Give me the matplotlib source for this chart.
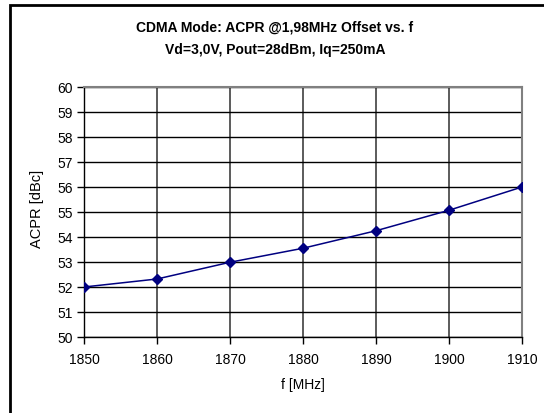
import matplotlib
matplotlib.use("Agg")
import matplotlib.pyplot as plt
from matplotlib.patches import Rectangle

plt.rcParams['font.family'] = ['Liberation Sans', 'DejaVu Sans']

freq = [1850, 1860, 1870, 1880, 1890, 1900, 1910]
acpr = [52.0, 52.32, 52.99, 53.55, 54.25, 55.07, 56.0]
x_ticks = [1850, 1860, 1870, 1880, 1890, 1900, 1910]
y_ticks = list(range(50, 61))

W, H = 544, 414
fig = plt.figure(figsize=(W / 100, H / 100), dpi=100)
fig.patch.set_facecolor('white')

left, right, top, bottom = 84, 522, 88, 338
ax = fig.add_axes([left / W, 1 - bottom / H, (right - left) / W, (bottom - top) / H])

ax.plot(freq, acpr, color='#000080', lw=1.1, marker='D', ms=5.5,
        markerfacecolor='#000080', markeredgecolor='#000080', zorder=3)

ax.set_xlim(1850, 1910)
ax.set_ylim(50, 60)
ax.set_xticks(x_ticks)
ax.set_yticks(y_ticks)
ax.tick_params(axis='both', direction='out', length=5, width=1, color='black',
               labelsize=10, pad=3)
ax.tick_params(axis='x', pad=6)
ax.grid(True, which='major', color='black', lw=1)
ax.xaxis.grid(True, color='#404040', lw=1.2)
for s in ax.spines.values():
    s.set_color('#808080')
    s.set_linewidth(1.5)
ax.spines['left'].set_color('black')
ax.spines['bottom'].set_color('black')
ax.spines['left'].set_linewidth(1)
ax.spines['bottom'].set_linewidth(1)

ax.set_xlabel('f [MHz]', fontsize=10, labelpad=8)
ax.set_ylabel('ACPR [dBc]', fontsize=10.5)
ax.yaxis.set_label_coords((44 - left) / (right - left), (bottom - 209) / (bottom - top))

fig.text(275 / W, 1 - 28 / H, 'CDMA Mode: ACPR @1,98MHz Offset vs. f',
         ha='center', va='center', fontsize=10, fontweight='bold')
fig.text(275 / W, 1 - 50 / H, 'Vd=3,0V, Pout=28dBm, Iq=250mA',
         ha='center', va='center', fontsize=10, fontweight='bold')

border = Rectangle((9.5 / W, -0.1), 1.2, 1 - 5.5 / H + 0.1, transform=fig.transFigure,
                   fill=False, edgecolor='black', lw=2, zorder=10)
fig.patches.append(border)

fig.savefig('out.png', dpi=100, facecolor='white')
